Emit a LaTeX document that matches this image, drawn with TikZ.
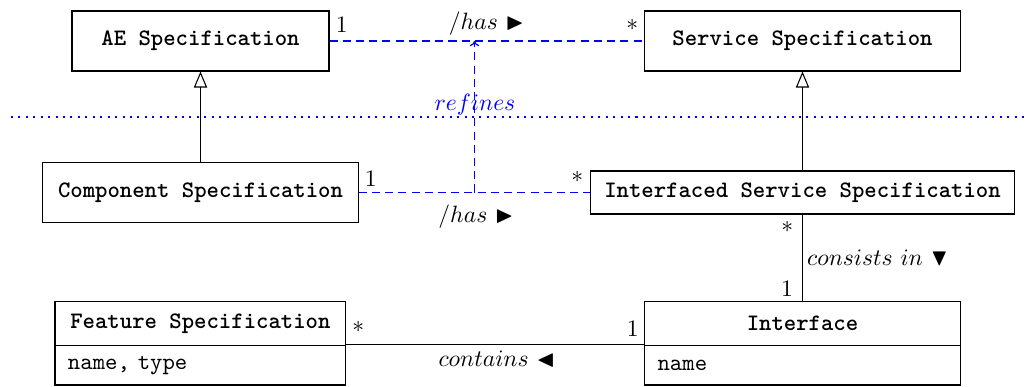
\documentclass[tikz,border=0pt]{standalone}
\usepackage{amssymb}
\usetikzlibrary{arrows.meta}
\definecolor{lnblue}{RGB}{0,0,255}
\tikzset{
  classbox/.style={draw, rectangle, font=\ttfamily\bfseries, inner sep=0pt, line width=0.45pt},
  attrbox/.style={draw, rectangle, font=\ttfamily, inner xsep=5.5pt, inner ysep=0pt, align=left, line width=0.45pt},
  assoc/.style={line width=0.45pt},
  derived/.style={lnblue, line width=0.5pt, dash pattern=on 3.4pt off 2.2pt},
  gen/.style={line width=0.45pt, -{Triangle[open, width=5.6pt, length=6.8pt]}},
  sepline/.style={lnblue, line width=0.85pt, dash pattern=on 0.85pt off 2.3pt},
  mult/.style={inner sep=0pt, font=\normalsize},
  rolelbl/.style={inner sep=0pt}
}
\begin{document}
\begin{tikzpicture}[x=0.4237pt,y=-0.4237pt]
\useasboundingbox (0,0) rectangle (1027,386);

% classes
\node[classbox, minimum width=108.9pt, minimum height=25.4pt] (ae) at (200.5,41) {AE Specification};
\node[classbox, minimum width=133.8pt, minimum height=25.4pt] (ss) at (802.5,41) {Service Specification};
\node[classbox, minimum width=133.6pt, minimum height=25.25pt] (cs) at (200.5,192.5) {Component Specification};
\node[classbox, minimum width=179.9pt, minimum height=18.2pt] (iss) at (802.5,192.5) {Interfaced Service Specification};

\node[classbox, minimum width=123.2pt, minimum height=18.5pt] (fsh) at (200.4,323.5) {Feature Specification};
\node[attrbox, text width=112.2pt, minimum height=16.8pt] (fsb) at (200.4,365.2) {name, type};
\node[classbox, minimum width=133.8pt, minimum height=18.5pt] (ifh) at (802.5,323.5) {Interface};
\node[attrbox, text width=122.8pt, minimum height=16.8pt] (ifb) at (802.5,365.2) {name};

% separation line
\coordinate (sepL) at (11,116.7);
\coordinate (sepR) at (1027,116.7);
\draw[sepline] (sepL) -- (sepR);

% generalizations
\draw[gen] (cs.north) -- (ae.south);
\draw[gen] (iss.north) -- (ss.south);

% derived associations
\draw[derived] (ae.east) -- (ss.west);
\draw[derived] (cs.east) -- (iss.west);
\coordinate (rb) at (474.5,192.5);
\coordinate (rt) at (474.5,41);
\draw[derived, -{To[length=2.2pt, width=4pt]}] (rb) -- (rt);
\node[rolelbl, text=lnblue] (reflbl) at (475,105) {$refines$};

\node[rolelbl] (has1) at (486.5,24) {$/has$ $\blacktriangleright$};
\node[rolelbl] (has2) at (476,217) {$/has$ $\blacktriangleright$};
\node[mult] (m1) at (341.7,25) {1};
\node[mult] (m2) at (632.3,25) {$*$};
\node[mult] (m3) at (370.7,178.3) {1};
\node[mult] (m4) at (577.3,177) {$*$};

% consists in
\draw[assoc] (iss.south) -- (ifh.north);
\node[mult] (m5) at (787.3,227.5) {$*$};
\node[mult] (m6) at (787,288.5) {1};
\node[rolelbl] (cons) at (877.5,258) {$consists$ $in$ $\blacktriangledown$};

% contains
\draw[assoc] ([yshift=0.7pt]fsh.south east) -- ([yshift=0.7pt]ifh.south west);
\node[mult] (m7) at (358.3,327.5) {$*$};
\node[mult] (m8) at (632.7,328.5) {1};
\node[rolelbl] (cont) at (496.7,359) {$contains$ $\blacktriangleleft$};
\end{tikzpicture}
\end{document}
